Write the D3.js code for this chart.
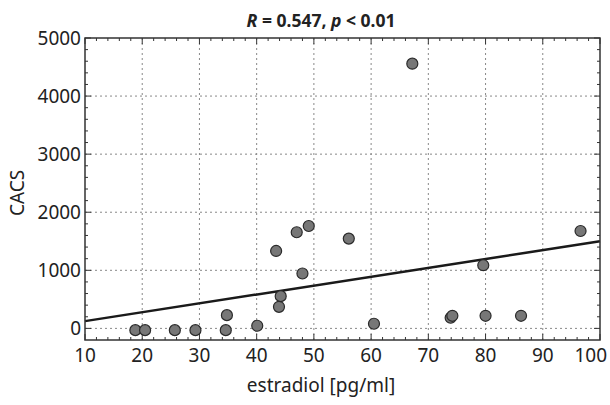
<!DOCTYPE html>
<html>
<head>
<meta charset="utf-8">
<script src="https://cdn.jsdelivr.net/npm/d3@7"></script>
<style>
  body { margin: 0; background: #fff; }
  svg { display: block; font-family: "Noto Sans", "Open Sans", sans-serif; }
</style>
</head>
<body>
<main></main>
<script>
// estradiol [pg/ml] vs CACS
var estradiol = [18.8, 20.5, 25.7, 29.3, 34.6, 34.8, 40.1, 43.4, 43.9, 44.2, 47.0, 48.0, 49.1, 56.1, 60.5, 67.2, 73.9, 74.2, 79.6, 80.0, 86.2, 96.6];
var cacs = [-30, -30, -30, -30, -30, 228, 45, 1333, 371, 555, 1655, 945, 1763, 1546, 80, 4558, 183, 217, 1088, 217, 217, 1677];
var fitX = [10, 100];
var fitY = [125, 1500];
var xTicks = [10, 20, 30, 40, 50, 60, 70, 80, 90, 100];
var yTicks = [0, 1000, 2000, 3000, 4000, 5000];

(function () {
    var width = 610, height = 405,
        margin = {top: 38, right: 10, bottom: 65, left: 85};

    var svg = d3.select("main").append("svg")
        .attr("width", width)
        .attr("height", height);

    var x = d3.scaleLinear().domain([10, 100]).range([margin.left, width - margin.right]),
        y = d3.scaleLinear().domain([-200, 5000]).range([height - margin.bottom, margin.top]);

    var x0 = x.range()[0], x1 = x.range()[1],
        y0 = y.range()[0], y1 = y.range()[1],
        textMid = 321;

    // grid
    var grid = svg.append("g").attr("stroke", "#888").attr("stroke-dasharray", "2,3").attr("stroke-width", 1);
    grid.selectAll(".gx").data(xTicks.slice(1, -1)).enter().append("line")
        .attr("x1", function (d) { return x(d); }).attr("x2", function (d) { return x(d); })
        .attr("y1", y1).attr("y2", y0);
    grid.selectAll(".gy").data(yTicks.slice(0, -1)).enter().append("line")
        .attr("y1", function (d) { return y(d); }).attr("y2", function (d) { return y(d); })
        .attr("x1", x0).attr("x2", x1);

    // ticks on all four sides, pointing inward
    var xMinor = d3.range(10, 100.01, 2),
        yMinor = d3.range(0, 5000.01, 200);
    var ticks = svg.append("g").attr("stroke", "#333").attr("stroke-width", 1);
    function tickLen(v, step) { return v % step === 0 ? 6 : 3; }
    xMinor.forEach(function (v) {
        var l = tickLen(v, 10);
        ticks.append("line").attr("x1", x(v)).attr("x2", x(v)).attr("y1", y0).attr("y2", y0 - l);
        ticks.append("line").attr("x1", x(v)).attr("x2", x(v)).attr("y1", y1).attr("y2", y1 + l);
    });
    yMinor.forEach(function (v) {
        var l = tickLen(v, 1000);
        ticks.append("line").attr("y1", y(v)).attr("y2", y(v)).attr("x1", x0).attr("x2", x0 + l);
        ticks.append("line").attr("y1", y(v)).attr("y2", y(v)).attr("x1", x1).attr("x2", x1 - l);
    });

    // tick labels
    svg.append("g").selectAll("text").data(xTicks).enter().append("text")
        .attr("x", function (d, i) { return i === xTicks.length - 1 ? 607 : x(d); })
        .attr("y", y0 + 22)
        .attr("text-anchor", function (d, i) { return i === xTicks.length - 1 ? "end" : "middle"; })
        .attr("font-size", 19)
        .attr("fill", "#222")
        .text(function (d) { return d; });
    svg.append("g").selectAll("text").data(yTicks).enter().append("text")
        .attr("x", x0 - 4)
        .attr("y", function (d) { return y(d) + 7; })
        .attr("text-anchor", "end")
        .attr("font-size", 19)
        .attr("fill", "#222")
        .text(function (d) { return d; });

    // fit line
    svg.append("line")
        .attr("x1", x(fitX[0])).attr("y1", y(fitY[0]))
        .attr("x2", x(fitX[1])).attr("y2", y(fitY[1]))
        .attr("stroke", "#1a1a1a").attr("stroke-width", 2.5);

    // points
    svg.append("g").selectAll("circle").data(estradiol).enter().append("circle")
        .attr("cx", function (d) { return x(d); })
        .attr("cy", function (d, i) { return y(cacs[i]); })
        .attr("r", 5.5)
        .attr("fill", "#777")
        .attr("stroke", "#2a2a2a")
        .attr("stroke-width", 1.2);

    // frame
    svg.append("rect")
        .attr("x", x0).attr("y", y1)
        .attr("width", x1 - x0).attr("height", y0 - y1)
        .attr("fill", "none").attr("stroke", "#333").attr("stroke-width", 1.5);

    // title
    var title = svg.append("text")
        .attr("x", textMid).attr("y", 27)
        .attr("text-anchor", "middle")
        .attr("font-size", 17.5).attr("font-weight", "bold").attr("fill", "#222");
    title.append("tspan").attr("font-style", "italic").text("R");
    title.append("tspan").text(" = 0.547, ");
    title.append("tspan").attr("font-style", "italic").text("p");
    title.append("tspan").text(" < 0.01");

    // axis labels
    svg.append("text")
        .attr("x", textMid).attr("y", 392)
        .attr("text-anchor", "middle")
        .attr("font-size", 19).attr("fill", "#222")
        .text("estradiol [pg/ml]");
    svg.append("text")
        .attr("transform", "translate(" + 24 + "," + 193 + ") rotate(-90)")
        .attr("text-anchor", "middle")
        .attr("font-size", 19).attr("fill", "#222")
        .text("CACS");
})();
</script>
</body>
</html>
